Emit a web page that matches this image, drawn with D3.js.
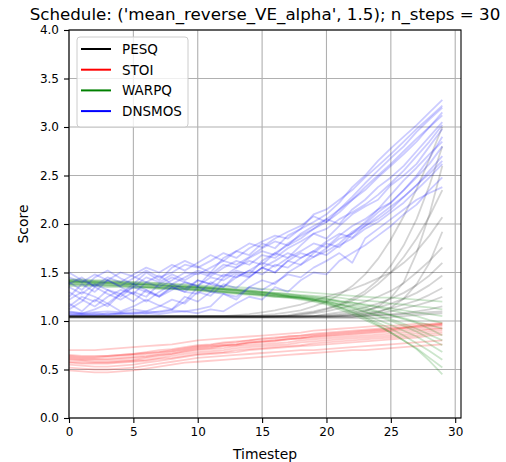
<!DOCTYPE html>
<html lang="en">
<head>
<meta charset="UTF-8">
<title>Schedule scores</title>
<script src="https://cdn.jsdelivr.net/npm/d3@7"></script>
<style>
  body { margin: 0; background: #fff; }
  svg text { font-family: "DejaVu Sans", sans-serif; fill: #000; }
</style>
</head>
<body>
<div id="container"></div>
<script>
// timesteps 0..29
const timesteps = [0,1,2,3,4,5,6,7,8,9,10,11,12,13,14,15,16,17,18,19,20,21,22,23,24,25,26,27,28,29];

// PESQ runs (black)
const pesqRuns = [
  [1.05,1.05,1.05,1.05,1.05,1.05,1.05,1.05,1.05,1.05,1.05,1.05,1.05,1.05,1.05,1.06,1.07,1.09,1.11,1.15,1.20,1.27,1.36,1.48,1.64,1.84,2.08,2.36,2.67,3.00],
  [1.04,1.04,1.04,1.04,1.04,1.04,1.04,1.04,1.04,1.04,1.04,1.04,1.04,1.04,1.04,1.04,1.05,1.06,1.08,1.10,1.13,1.17,1.23,1.31,1.42,1.57,1.78,2.05,2.40,2.80],
  [1.05,1.05,1.05,1.05,1.05,1.05,1.05,1.05,1.05,1.05,1.05,1.05,1.05,1.05,1.05,1.05,1.05,1.05,1.05,1.05,1.05,1.06,1.07,1.10,1.15,1.24,1.40,1.70,2.10,2.60],
  [1.04,1.04,1.04,1.04,1.04,1.04,1.04,1.04,1.04,1.04,1.04,1.04,1.04,1.04,1.04,1.04,1.04,1.05,1.07,1.09,1.12,1.16,1.21,1.28,1.38,1.50,1.66,1.85,2.08,2.35],
  [1.05,1.05,1.05,1.05,1.05,1.05,1.05,1.05,1.05,1.05,1.05,1.05,1.05,1.06,1.07,1.09,1.11,1.14,1.17,1.21,1.25,1.29,1.33,1.38,1.44,1.50,1.60,1.72,1.88,2.07],
  [1.04,1.04,1.04,1.04,1.04,1.04,1.04,1.04,1.04,1.04,1.04,1.04,1.04,1.04,1.04,1.04,1.04,1.04,1.04,1.04,1.04,1.04,1.04,1.06,1.09,1.14,1.23,1.38,1.60,1.92],
  [1.05,1.05,1.05,1.05,1.05,1.05,1.05,1.05,1.05,1.05,1.05,1.05,1.05,1.05,1.05,1.05,1.05,1.05,1.06,1.08,1.10,1.13,1.16,1.20,1.25,1.31,1.39,1.50,1.62,1.76],
  [1.04,1.04,1.04,1.04,1.04,1.04,1.04,1.04,1.04,1.04,1.04,1.04,1.04,1.04,1.04,1.04,1.04,1.04,1.04,1.05,1.07,1.09,1.11,1.14,1.18,1.23,1.29,1.37,1.47,1.60],
  [1.05,1.05,1.05,1.05,1.05,1.05,1.05,1.05,1.05,1.05,1.05,1.05,1.05,1.05,1.05,1.05,1.05,1.05,1.05,1.05,1.06,1.07,1.09,1.11,1.14,1.18,1.23,1.29,1.37,1.47],
  [1.04,1.04,1.04,1.04,1.04,1.04,1.04,1.04,1.04,1.04,1.04,1.04,1.04,1.04,1.04,1.04,1.04,1.04,1.04,1.04,1.04,1.05,1.06,1.08,1.10,1.13,1.17,1.21,1.27,1.34],
  [1.05,1.05,1.05,1.05,1.05,1.05,1.05,1.05,1.05,1.05,1.05,1.05,1.05,1.05,1.05,1.05,1.05,1.05,1.05,1.05,1.05,1.05,1.06,1.07,1.08,1.10,1.13,1.16,1.20,1.25],
  [1.04,1.04,1.04,1.04,1.04,1.04,1.04,1.04,1.04,1.04,1.04,1.04,1.04,1.04,1.04,1.04,1.04,1.04,1.04,1.04,1.04,1.04,1.04,1.05,1.06,1.07,1.08,1.10,1.12,1.15],
  [1.05,1.05,1.05,1.05,1.05,1.05,1.05,1.05,1.05,1.05,1.05,1.05,1.05,1.05,1.05,1.05,1.05,1.05,1.05,1.05,1.05,1.05,1.05,1.05,1.06,1.06,1.07,1.08,1.09,1.10],
  [1.03,1.03,1.03,1.03,1.03,1.03,1.03,1.03,1.03,1.03,1.03,1.03,1.03,1.03,1.03,1.03,1.03,1.03,1.03,1.03,1.03,1.03,1.03,1.03,1.03,1.04,1.05,1.06,1.07,1.08]
];

// STOI runs (red)
const stoiRuns = [
  [0.70,0.70,0.70,0.71,0.72,0.73,0.74,0.75,0.76,0.78,0.80,0.81,0.82,0.83,0.84,0.85,0.86,0.87,0.88,0.90,0.91,0.92,0.93,0.94,0.95,0.95,0.96,0.97,0.97,0.98],
  [0.65,0.64,0.64,0.64,0.65,0.66,0.67,0.68,0.70,0.72,0.74,0.75,0.77,0.78,0.80,0.81,0.82,0.84,0.85,0.86,0.87,0.88,0.89,0.90,0.91,0.92,0.93,0.95,0.96,0.97],
  [0.62,0.61,0.61,0.61,0.62,0.63,0.64,0.66,0.68,0.70,0.72,0.73,0.75,0.76,0.78,0.79,0.80,0.82,0.83,0.85,0.86,0.87,0.88,0.89,0.90,0.91,0.93,0.94,0.95,0.96],
  [0.60,0.59,0.58,0.58,0.59,0.60,0.62,0.64,0.66,0.69,0.71,0.72,0.74,0.75,0.77,0.78,0.79,0.81,0.82,0.84,0.85,0.86,0.87,0.88,0.89,0.90,0.92,0.93,0.94,0.95],
  [0.63,0.62,0.62,0.63,0.64,0.65,0.66,0.68,0.69,0.71,0.73,0.74,0.75,0.76,0.78,0.79,0.80,0.81,0.82,0.83,0.84,0.85,0.86,0.87,0.88,0.89,0.90,0.91,0.92,0.93],
  [0.58,0.57,0.57,0.57,0.58,0.59,0.60,0.62,0.64,0.66,0.68,0.69,0.70,0.72,0.73,0.74,0.75,0.76,0.78,0.79,0.80,0.81,0.82,0.83,0.84,0.85,0.86,0.87,0.89,0.90],
  [0.55,0.54,0.53,0.53,0.54,0.55,0.57,0.59,0.61,0.63,0.65,0.66,0.67,0.68,0.70,0.71,0.72,0.73,0.74,0.75,0.76,0.77,0.78,0.79,0.80,0.81,0.82,0.83,0.85,0.86],
  [0.52,0.51,0.50,0.50,0.51,0.52,0.54,0.56,0.58,0.60,0.62,0.63,0.64,0.65,0.66,0.67,0.68,0.69,0.70,0.70,0.71,0.72,0.73,0.74,0.75,0.76,0.77,0.78,0.79,0.80],
  [0.57,0.56,0.56,0.56,0.57,0.58,0.59,0.61,0.62,0.64,0.66,0.67,0.68,0.70,0.71,0.72,0.73,0.74,0.75,0.77,0.78,0.79,0.80,0.81,0.82,0.83,0.84,0.85,0.87,0.88],
  [0.61,0.60,0.60,0.60,0.61,0.62,0.63,0.65,0.66,0.68,0.70,0.71,0.72,0.74,0.75,0.76,0.77,0.78,0.80,0.81,0.82,0.83,0.84,0.85,0.86,0.87,0.88,0.89,0.91,0.92],
  [0.49,0.48,0.47,0.47,0.48,0.49,0.51,0.53,0.55,0.57,0.58,0.59,0.60,0.61,0.62,0.63,0.64,0.65,0.66,0.67,0.68,0.69,0.70,0.70,0.71,0.72,0.73,0.74,0.75,0.76],
  [0.64,0.63,0.63,0.64,0.65,0.66,0.68,0.70,0.71,0.73,0.75,0.76,0.78,0.79,0.80,0.82,0.83,0.84,0.85,0.87,0.88,0.89,0.90,0.91,0.92,0.93,0.94,0.95,0.96,0.97]
];

// WARPQ runs (green)
const warpqRuns = [
  [1.42,1.42,1.41,1.41,1.40,1.40,1.39,1.39,1.38,1.38,1.37,1.36,1.36,1.35,1.34,1.33,1.32,1.31,1.30,1.29,1.28,1.27,1.26,1.25,1.24,1.24,1.23,1.22,1.21,1.20],
  [1.40,1.40,1.39,1.39,1.38,1.38,1.37,1.37,1.36,1.35,1.35,1.34,1.33,1.32,1.31,1.30,1.29,1.28,1.27,1.26,1.25,1.24,1.22,1.21,1.20,1.18,1.17,1.15,1.14,1.12],
  [1.38,1.38,1.37,1.37,1.36,1.36,1.35,1.34,1.34,1.33,1.32,1.31,1.30,1.29,1.28,1.27,1.26,1.25,1.24,1.23,1.22,1.20,1.19,1.17,1.15,1.13,1.11,1.09,1.07,1.05],
  [1.41,1.40,1.40,1.39,1.39,1.38,1.38,1.37,1.36,1.36,1.35,1.34,1.33,1.32,1.31,1.30,1.28,1.27,1.26,1.24,1.23,1.21,1.19,1.16,1.14,1.11,1.08,1.05,1.01,0.98],
  [1.36,1.36,1.36,1.35,1.35,1.34,1.34,1.33,1.33,1.32,1.31,1.30,1.29,1.28,1.27,1.26,1.25,1.24,1.23,1.21,1.20,1.17,1.15,1.12,1.09,1.06,1.03,0.99,0.96,0.92],
  [1.43,1.43,1.42,1.42,1.41,1.40,1.40,1.39,1.38,1.37,1.36,1.35,1.34,1.33,1.32,1.30,1.29,1.28,1.26,1.25,1.23,1.20,1.17,1.14,1.10,1.06,1.02,0.98,0.92,0.85],
  [1.39,1.39,1.38,1.38,1.37,1.37,1.36,1.35,1.35,1.34,1.33,1.32,1.31,1.30,1.29,1.28,1.27,1.26,1.25,1.23,1.21,1.18,1.14,1.10,1.06,1.02,0.97,0.92,0.86,0.80],
  [1.37,1.37,1.37,1.36,1.36,1.35,1.35,1.34,1.33,1.33,1.32,1.31,1.30,1.29,1.28,1.27,1.26,1.25,1.24,1.22,1.20,1.17,1.13,1.09,1.05,1.00,0.95,0.89,0.82,0.75],
  [1.41,1.41,1.40,1.40,1.39,1.38,1.38,1.37,1.36,1.35,1.34,1.33,1.32,1.31,1.30,1.29,1.28,1.26,1.24,1.22,1.19,1.15,1.11,1.06,1.01,0.96,0.90,0.84,0.76,0.68],
  [1.40,1.40,1.39,1.39,1.38,1.38,1.37,1.36,1.36,1.35,1.34,1.33,1.32,1.31,1.30,1.28,1.27,1.25,1.23,1.21,1.18,1.14,1.09,1.04,0.98,0.92,0.85,0.77,0.69,0.60],
  [1.38,1.38,1.38,1.37,1.37,1.36,1.35,1.35,1.34,1.33,1.32,1.31,1.30,1.29,1.28,1.27,1.25,1.24,1.22,1.20,1.17,1.12,1.07,1.01,0.95,0.88,0.80,0.72,0.62,0.52],
  [1.42,1.41,1.41,1.40,1.40,1.39,1.38,1.38,1.37,1.36,1.35,1.34,1.33,1.32,1.30,1.29,1.28,1.26,1.24,1.22,1.19,1.14,1.09,1.03,0.96,0.88,0.80,0.71,0.59,0.45]
];

// DNSMOS runs (blue)
const dnsmosRuns = [
  [1.08,1.07,1.08,1.07,1.08,1.09,1.08,1.10,1.12,1.20,1.35,1.30,1.45,1.52,1.48,1.62,1.70,1.78,1.85,1.95,2.02,2.12,2.25,2.35,2.48,2.60,2.72,2.85,3.00,3.15],
  [1.25,1.38,1.30,1.42,1.35,1.28,1.40,1.47,1.38,1.45,1.52,1.48,1.58,1.55,1.65,1.72,1.68,1.80,1.88,1.95,2.05,2.15,2.25,2.38,2.50,2.62,2.75,2.88,3.00,3.12],
  [1.12,1.20,1.35,1.28,1.22,1.30,1.25,1.38,1.45,1.40,1.36,1.50,1.46,1.55,1.62,1.58,1.70,1.65,1.78,1.90,1.85,1.98,2.10,2.18,2.25,2.40,2.50,2.62,2.80,2.98],
  [1.45,1.40,1.48,1.42,1.50,1.46,1.40,1.35,1.42,1.50,1.48,1.55,1.62,1.58,1.66,1.75,1.82,1.78,1.90,1.98,2.05,2.00,2.15,2.25,2.38,2.48,2.60,2.75,2.90,3.05],
  [1.06,1.07,1.06,1.08,1.07,1.08,1.10,1.09,1.11,1.10,1.12,1.15,1.28,1.25,1.35,1.42,1.38,1.50,1.58,1.66,1.72,1.80,1.92,2.00,2.12,2.22,2.35,2.48,2.62,2.80],
  [1.30,1.22,1.15,1.25,1.32,1.28,1.20,1.30,1.38,1.33,1.42,1.38,1.48,1.45,1.52,1.60,1.56,1.65,1.72,1.80,1.76,1.88,1.98,2.05,2.15,2.22,2.35,2.50,2.68,2.90],
  [1.18,1.10,1.22,1.15,1.28,1.20,1.32,1.25,1.35,1.30,1.28,1.40,1.35,1.48,1.45,1.55,1.50,1.62,1.70,1.66,1.75,1.85,1.90,1.98,2.08,2.18,2.28,2.40,2.55,2.70],
  [1.38,1.45,1.35,1.42,1.36,1.44,1.52,1.45,1.50,1.58,1.55,1.62,1.70,1.65,1.75,1.82,1.88,1.85,1.95,2.02,2.10,2.22,2.38,2.50,2.65,2.78,2.90,3.02,3.15,3.28],
  [1.07,1.06,1.07,1.06,1.08,1.07,1.08,1.07,1.09,1.10,1.08,1.12,1.10,1.18,1.25,1.22,1.35,1.30,1.42,1.50,1.48,1.62,1.70,1.78,1.88,1.98,2.10,2.20,2.35,2.48],
  [1.22,1.30,1.25,1.18,1.28,1.35,1.30,1.25,1.32,1.40,1.36,1.45,1.42,1.50,1.46,1.55,1.62,1.70,1.65,1.72,1.82,1.90,1.86,1.98,2.05,2.15,2.28,2.40,2.52,2.65],
  [1.50,1.42,1.36,1.45,1.40,1.48,1.55,1.50,1.58,1.52,1.60,1.68,1.62,1.72,1.80,1.76,1.85,1.92,1.98,2.08,2.02,2.15,2.28,2.42,2.55,2.68,2.80,2.95,3.08,3.20],
  [1.10,1.08,1.12,1.18,1.10,1.15,1.22,1.16,1.12,1.25,1.20,1.30,1.28,1.22,1.35,1.32,1.40,1.48,1.45,1.55,1.62,1.70,1.60,1.85,1.95,2.05,2.15,2.25,2.32,2.38],
  [1.15,1.25,1.20,1.32,1.28,1.38,1.32,1.26,1.35,1.30,1.42,1.38,1.35,1.45,1.52,1.48,1.58,1.55,1.65,1.72,1.68,1.78,1.85,1.95,2.02,2.12,2.22,2.35,2.48,2.62],
  [1.35,1.28,1.38,1.32,1.25,1.35,1.45,1.40,1.48,1.42,1.50,1.46,1.55,1.62,1.58,1.68,1.65,1.75,1.82,1.90,1.95,2.05,2.12,2.20,2.30,2.42,2.55,2.70,2.85,3.02],
  [1.09,1.08,1.09,1.10,1.09,1.12,1.10,1.15,1.22,1.18,1.30,1.26,1.38,1.34,1.45,1.55,1.50,1.62,1.58,1.70,1.80,1.76,1.90,2.02,2.15,2.30,2.45,2.58,2.72,2.85],
  [1.40,1.32,1.45,1.52,1.44,1.38,1.50,1.42,1.55,1.62,1.56,1.50,1.65,1.72,1.68,1.80,1.75,1.88,1.95,2.10,2.15,2.25,2.35,2.48,2.60,2.72,2.85,2.98,3.10,3.22]
];

const metricNames = ["PESQ", "STOI", "WARPQ", "DNSMOS"];
const metricColors = ["#000000", "#ff0000", "#008000", "#0000ff"];
const metricAlpha = [0.17, 0.2, 0.2, 0.2];
const xTicks = [0, 5, 10, 15, 20, 25, 30];
const yTicks = [0.0, 0.5, 1.0, 1.5, 2.0, 2.5, 3.0, 3.5, 4.0];

const width = 506, height = 462;
const margin = { top: 30, right: 45, bottom: 44, left: 69 };

const svg = d3.select("#container").append("svg")
    .attr("width", width)
    .attr("height", height);

const xScale = d3.scaleLinear().domain([0, 30.45]).range([margin.left, width - margin.right]);
const yScale = d3.scaleLinear().domain([0, 4]).range([height - margin.bottom, margin.top]);

// grid
svg.append("g").selectAll("line").data(xTicks).enter().append("line")
    .attr("x1", d => xScale(d)).attr("x2", d => xScale(d))
    .attr("y1", margin.top).attr("y2", height - margin.bottom)
    .attr("stroke", "#b0b0b0").attr("stroke-width", 1.1);
svg.append("g").selectAll("line").data(yTicks).enter().append("line")
    .attr("x1", margin.left).attr("x2", width - margin.right)
    .attr("y1", d => yScale(d)).attr("y2", d => yScale(d))
    .attr("stroke", "#b0b0b0").attr("stroke-width", 1.1);

// lines
const line = d3.line()
    .x((d, i) => xScale(timesteps[i]))
    .y(d => yScale(d));

const groups = [pesqRuns, stoiRuns, warpqRuns, dnsmosRuns];
groups.forEach((runs, k) => {
    svg.append("g")
        .selectAll("path")
        .data(runs)
        .enter().append("path")
        .attr("d", line)
        .attr("fill", "none")
        .attr("stroke", metricColors[k])
        .attr("stroke-opacity", metricAlpha[k])
        .attr("stroke-width", 1.8)
        .attr("stroke-linejoin", "round");
});

// axes
const xAxis = d3.axisBottom(xScale).tickValues(xTicks).tickSize(5).tickPadding(4);
const yAxis = d3.axisLeft(yScale).tickValues(yTicks).tickSize(5).tickPadding(5)
    .tickFormat(d3.format(".1f"));

const gx = svg.append("g")
    .attr("transform", "translate(0," + (height - margin.bottom) + ")")
    .call(xAxis);
const gy = svg.append("g")
    .attr("transform", "translate(" + margin.left + ",0)")
    .call(yAxis);
[gx, gy].forEach(g => {
    g.select(".domain").remove();
    g.selectAll(".tick line").attr("stroke", "#000").attr("stroke-width", 1.1);
    g.selectAll(".tick text").attr("font-size", 12).attr("font-family", "DejaVu Sans").attr("fill", "#000");
});

// spines
svg.append("rect")
    .attr("x", margin.left).attr("y", margin.top)
    .attr("width", width - margin.left - margin.right)
    .attr("height", height - margin.top - margin.bottom)
    .attr("fill", "none").attr("stroke", "#000").attr("stroke-width", 1.1);

// title and labels
svg.append("text")
    .attr("x", (margin.left + width - margin.right) / 2)
    .attr("y", 20)
    .attr("text-anchor", "middle")
    .attr("font-size", 16.7)
    .text("Schedule: ('mean_reverse_VE_alpha', 1.5); n_steps = 30");

svg.append("text")
    .attr("x", (margin.left + width - margin.right) / 2)
    .attr("y", 458.5)
    .attr("text-anchor", "middle")
    .attr("font-size", 13.9)
    .text("Timestep");

svg.append("text")
    .attr("transform", "rotate(-90)")
    .attr("x", -yScale(2))
    .attr("y", 28)
    .attr("text-anchor", "middle")
    .attr("font-size", 13.9)
    .text("Score");

// legend
const legend = svg.append("g");
legend.append("rect")
    .attr("x", 77).attr("y", 37)
    .attr("width", 111).attr("height", 90)
    .attr("rx", 3)
    .attr("fill", "#fff").attr("fill-opacity", 0.8)
    .attr("stroke", "#cccccc").attr("stroke-width", 1);

legend.selectAll("line.key").data(metricNames).enter().append("line")
    .attr("class", "key")
    .attr("x1", 81).attr("x2", 111)
    .attr("y1", (d, i) => 49 + i * 20.7)
    .attr("y2", (d, i) => 49 + i * 20.7)
    .attr("stroke", (d, i) => metricColors[i])
    .attr("stroke-width", 2);

legend.selectAll("text").data(metricNames).enter().append("text")
    .attr("x", 122)
    .attr("y", (d, i) => 49 + i * 20.7 + 5)
    .attr("font-size", 13.5)
    .text(d => d);
</script>
</body>
</html>
